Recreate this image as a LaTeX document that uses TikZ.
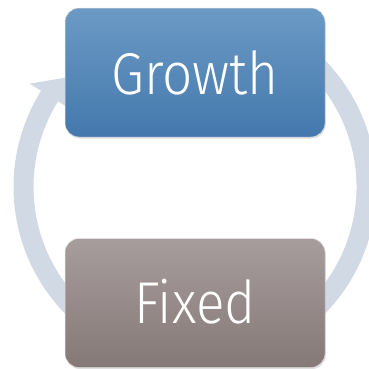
\documentclass[tikz,border=0pt]{standalone}
\usepackage{fontspec}
\setmainfont{Fira Sans Light}
\usetikzlibrary{shadows}
\definecolor{ringcol}{HTML}{D1D9E5}
\definecolor{growthtop}{HTML}{6B9AC4}
\definecolor{growthbot}{HTML}{4478AD}
\definecolor{fixedtop}{HTML}{A79D9C}
\definecolor{fixedbot}{HTML}{857978}
\tikzset{
  stagebox/.style={rounded corners=14pt, minimum width=260pt, minimum height=129pt,
    inner sep=0pt, draw=black!12, line width=0.5pt, text=white,
    drop shadow={shadow xshift=0.8pt, shadow yshift=-1.5pt, opacity=0.25},
    font=\fontsize{59}{59}\selectfont},
  ring/.style={fill=ringcol}
}
\begin{document}
\begin{tikzpicture}[x=1pt,y=1pt]
\useasboundingbox (0,0) rectangle (369,368);
\clip (0,0) rectangle (369,368);
% cycle arrows behind the two stages
\begin{scope}[shift={(195,181)}]
  \fill[ring] (240:181.5) arc[start angle=240, end angle=148, radius=181.5]
    -- (148:195) -- (137:163) -- (148:148) -- (148:161.5)
    arc[start angle=148, end angle=240, radius=161.5] -- cycle;
  \fill[ring] (60:181.5) arc[start angle=60, end angle=-60, radius=181.5]
    -- (-60:161.5) arc[start angle=-60, end angle=60, radius=161.5] -- cycle;
\end{scope}
% stages
\node[stagebox, top color=growthtop, bottom color=growthbot] (growth) at (195,295.5)
  {\scalebox{0.9}[1]{Growth}};
\node[stagebox, top color=fixedtop, bottom color=fixedbot] (fixed) at (195,65)
  {\raisebox{3pt}{\scalebox{0.9}[1]{Fixed}}};
\end{tikzpicture}
\end{document}
